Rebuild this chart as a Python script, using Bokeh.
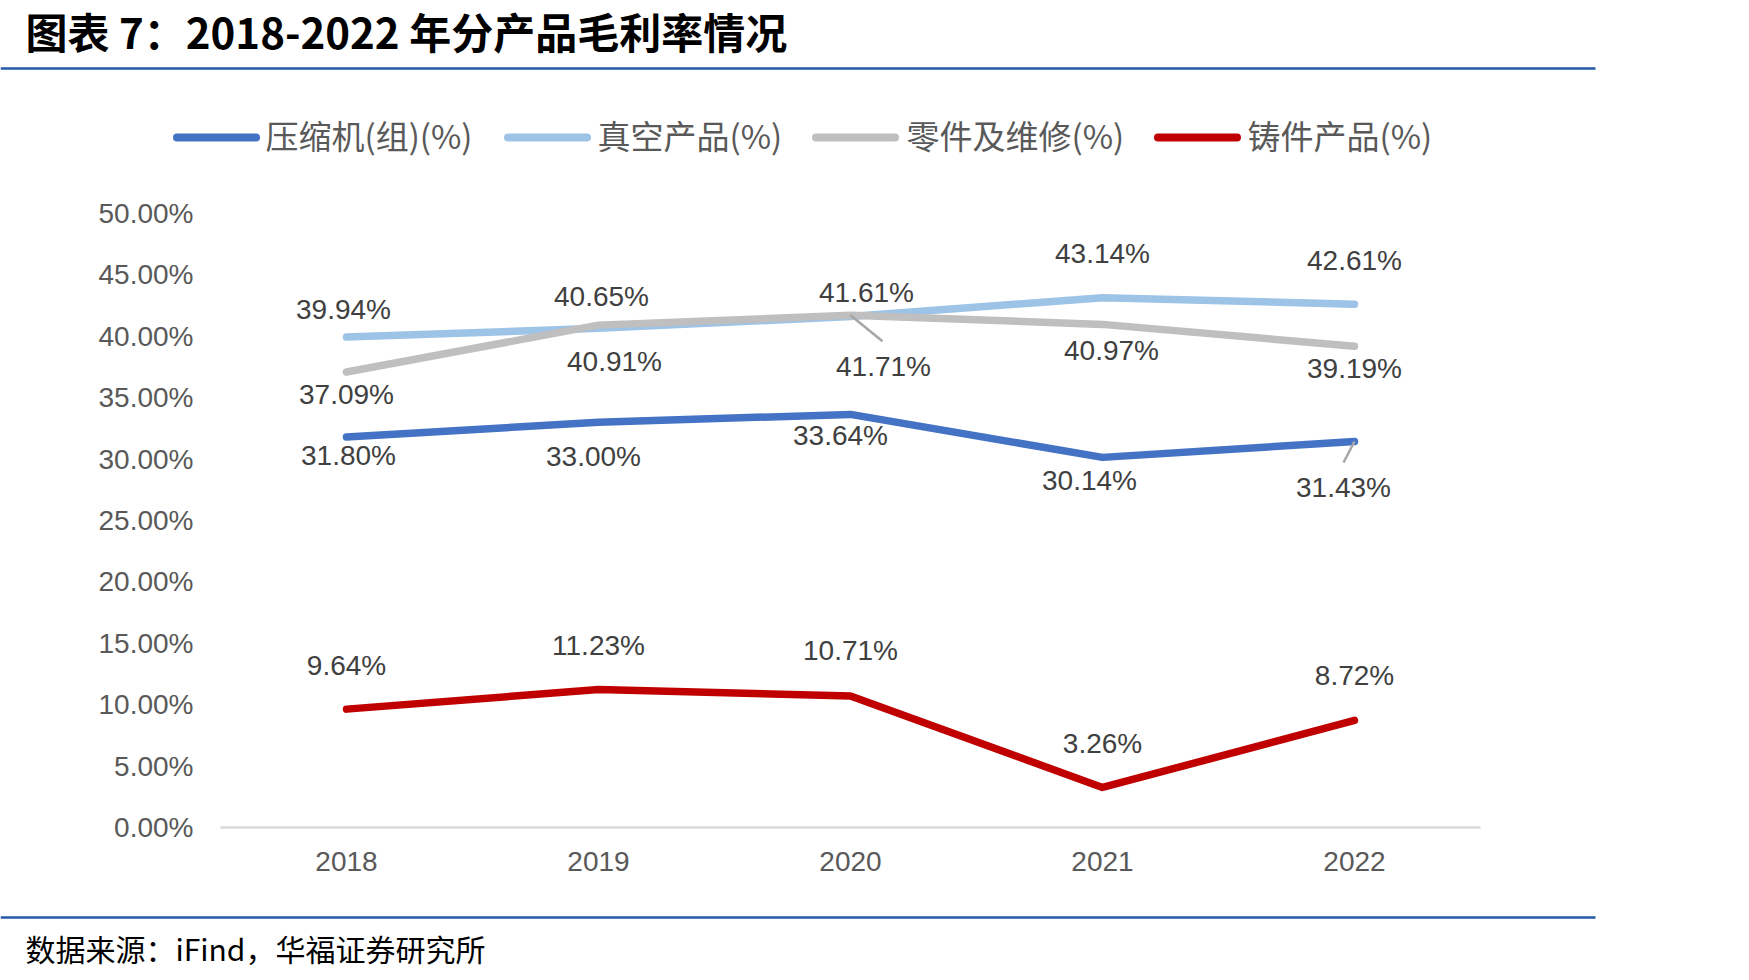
from bokeh.plotting import figure
from bokeh.layouts import column
from bokeh.models import (Range1d, FixedTicker, PrintfTickFormatter, ColumnDataSource)
from bokeh.core.properties import value
from bokeh.embed import file_html
from bokeh.resources import INLINE

# ---------------- data ----------------
years = ["2018", "2019", "2020", "2021", "2022"]
compressor = [31.80, 33.00, 33.64, 30.14, 31.43]
vacuum = [39.94, 40.65, 41.61, 43.14, 42.61]
parts = [37.09, 40.91, 41.71, 40.97, 39.19]
casting = [9.64, 11.23, 10.71, 3.26, 8.72]
series_names = ["压缩机(组)(%)", "真空产品(%)", "零件及维修(%)", "铸件产品(%)"]
y_ticks = [0, 5, 10, 15, 20, 25, 30, 35, 40, 45, 50]
title_text = "图表 7：2018-2022 年分产品毛利率情况"
source_text = "数据来源：iFind，华福证券研究所"

# ---------------- styles ----------------
colors = ["#4472C4", "#9DC3E6", "#BFBFBF", "#C00000"]
rule_color = "#2359A5"
# label offsets in screen px (dx right, dy down)
label_dx = [[2, -5, -10, -13, -11],
            [-3, 3, 16, 0, 0],
            [0, 16, 33, 9, 0],
            [0, 0, 0, 0, 0]]
label_dy = [[19, 34, 21, 23, 46],
            [-28, -32, -24, -44, -44],
            [22, 36, 51, 26, 22],
            [-44, -44, -45, -44, -45]]
# legend layout (page px)
leg_line_x0 = [176.5, 507.5, 815.5, 1157.5]
leg_line_len = 79
leg_text_x = [265, 597, 906, 1247]
leg_y = 137

W = 1749
HEAD_H, MAIN_H, FOOT_H = 175, 720, 85
FL, FR = 220, 1480
FT_M, FB_M = 213 - HEAD_H, 827 - HEAD_H   # frame top/bottom inside the main figure
PX_X = (FR - FL) / 5.0
PX_Y = (FB_M - FT_M) / 50.0


def blank(h):
    f = figure(width=W, height=h, x_range=Range1d(0, W), y_range=Range1d(h, 0),
               output_backend="svg", toolbar_location=None, title=None,
               x_axis_type=None, y_axis_type=None, frame_align=False,
               min_border_left=0, min_border_right=0, min_border_top=0, min_border_bottom=0)
    f.outline_line_color = None
    f.background_fill_color = "white"
    f.border_fill_color = "white"
    return f


# ---------------- header: title, rule, legend ----------------
head = blank(HEAD_H)
head.text(x=[25], y=[30], text=[title_text], text_baseline="middle", text_align="left",
          text_font=value("Noto Sans CJK SC"), text_font_style="bold",
          text_font_size=value("42px"), text_color="#000000")
head.segment(x0=[0], y0=[68], x1=[1595], y1=[68], line_color=rule_color, line_width=2.5)
head.segment(x0=leg_line_x0, y0=[leg_y] * 4, x1=[x + leg_line_len for x in leg_line_x0],
             y1=[leg_y] * 4, line_color=colors, line_width=8, line_cap="round")
head.text(x=leg_text_x, y=[leg_y - 3] * 4, text=series_names, text_baseline="middle",
          text_align="left", text_font=value("Noto Sans CJK SC"),
          text_font_size=value("33px"), text_color="#595959")

# ---------------- main chart ----------------
p = figure(width=W, height=MAIN_H, x_range=Range1d(-0.5, 4.5), y_range=Range1d(0, 50),
           output_backend="svg", toolbar_location=None, title=None, frame_align=False,
           min_border_left=FL, min_border_right=W - FR,
           min_border_top=FT_M, min_border_bottom=MAIN_H - FB_M)
p.outline_line_color = None
p.background_fill_color = "white"
p.border_fill_color = "white"
p.xgrid.visible = False
p.ygrid.visible = False

idx = list(range(len(years)))

p.xaxis.ticker = FixedTicker(ticks=idx)
p.xaxis.major_label_overrides = {i: y for i, y in enumerate(years)}
p.xaxis.axis_line_color = "#D9D9D9"
p.xaxis.axis_line_width = 2.5
p.xaxis.major_tick_line_color = None
p.xaxis.minor_tick_line_color = None
p.xaxis.major_label_text_font = "Liberation Sans"
p.xaxis.major_label_text_font_size = "28px"
p.xaxis.major_label_text_color = "#595959"
p.xaxis.major_label_standoff = 18

p.yaxis.ticker = FixedTicker(ticks=y_ticks)
p.yaxis.formatter = PrintfTickFormatter(format="%.2f%%")
p.yaxis.axis_line_color = None
p.yaxis.major_tick_line_color = None
p.yaxis.minor_tick_line_color = None
p.yaxis.major_label_text_font = "Liberation Sans"
p.yaxis.major_label_text_font_size = "28px"
p.yaxis.major_label_text_color = "#595959"
p.yaxis.major_label_standoff = 21

all_series = [compressor, vacuum, parts, casting]
for s, c in zip(all_series, colors):
    p.line(x=idx, y=s, line_color=c, line_width=7.5, line_cap="round", line_join="round")

# leader lines (2020 parts, 2022 compressor)
p.segment(x0=[2, 4], y0=[parts[2], compressor[4]],
          x1=[2 + 32 / PX_X, 4 - 11 / PX_X], y1=[parts[2] - 26 / PX_Y, compressor[4] - 21 / PX_Y],
          line_color="#A6A6A6", line_width=2.5)

for s, dx, dy in zip(all_series, label_dx, label_dy):
    src = ColumnDataSource(dict(x=idx, y=s, t=[f"{v:.2f}%" for v in s], dx=dx, dy=dy))
    p.text(x="x", y="y", text="t", x_offset="dx", y_offset="dy", source=src,
           text_align="center", text_baseline="middle",
           text_font=value("Liberation Sans"), text_font_size=value("28px"),
           text_color="#404040")

# ---------------- footer: rule, source ----------------
foot = blank(FOOT_H)
foot.segment(x0=[0], y0=[22], x1=[1595], y1=[22], line_color=rule_color, line_width=2.5)
foot.text(x=[25], y=[52], text=[source_text], text_baseline="middle", text_align="left",
          text_font=value("Noto Sans CJK SC"), text_font_size=value("30px"),
          text_color="#000000")

layout = column(head, p, foot, spacing=0)
open("out.html", "w").write(file_html(layout, INLINE))
